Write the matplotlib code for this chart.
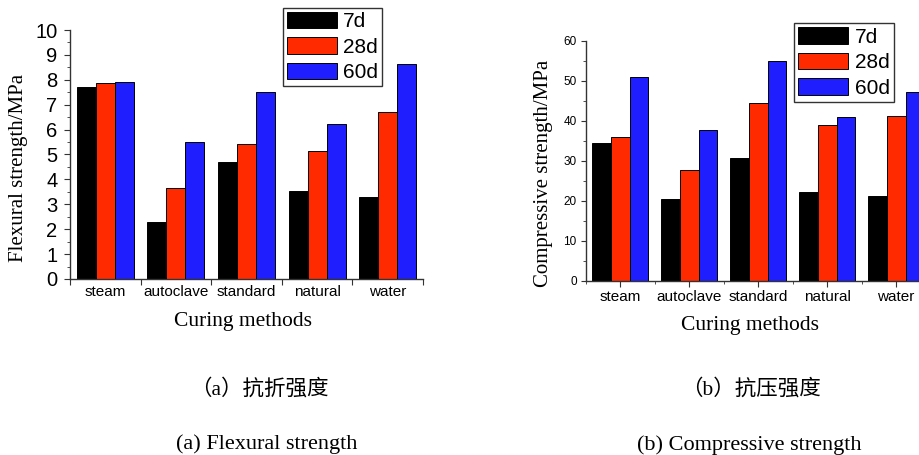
import numpy as np
import matplotlib
matplotlib.use("Agg")
import matplotlib.pyplot as plt

# curing methods and strength values (MPa)
methods = ["steam", "autoclave", "standard", "natural", "water"]
ages = ["7d", "28d", "60d"]
flex_7d = [7.70, 2.30, 4.70, 3.52, 3.28]
flex_28d = [7.87, 3.67, 5.42, 5.15, 6.72]
flex_60d = [7.92, 5.51, 7.52, 6.21, 8.63]
comp_7d = [34.5, 20.5, 30.6, 22.2, 21.1]
comp_28d = [35.9, 27.7, 44.4, 38.9, 41.3]
comp_60d = [50.9, 37.7, 55.0, 40.9, 47.1]

colors = ["#000000", "#FF2A00", "#1E1EFF"]
W, H = 920, 455
serif = "Liberation Serif"
sans = "Liberation Sans"


def px_axes(fig, x0, y0, x1, y1):
    # pixel box (top-left origin) -> figure axes
    return fig.add_axes([x0 / W, 1 - y1 / H, (x1 - x0) / W, (y1 - y0) / H])


def draw_bars(ax, series):
    x = np.arange(len(methods))
    bw = 0.27
    for i, (vals, c) in enumerate(zip(series, colors)):
        ax.bar(x + (i - 1) * bw, vals, bw, color=c, edgecolor="black",
               linewidth=0.7, label=ages[i], zorder=2)
    ax.set_xlim(-0.5, len(methods) - 0.5)
    for s in ["top", "right"]:
        ax.spines[s].set_visible(False)
    for s in ["left", "bottom"]:
        ax.spines[s].set_linewidth(1.0)
        ax.spines[s].set_color("#333333")


def add_legend(ax, fig, x, y):
    ax.legend(loc="upper left", bbox_to_anchor=(x / W, 1 - y / H),
              bbox_transform=fig.transFigure, prop={"family": sans, "size": 15},
              fancybox=False, edgecolor="#333333", framealpha=1, borderaxespad=0,
              handlelength=2.4, handleheight=0.85, labelspacing=0.28,
              handletextpad=0.3, borderpad=0.2)


fig = plt.figure(figsize=(W / 100, H / 100), dpi=100)

# ---- (a) flexural
ax1 = px_axes(fig, 70, 30, 423, 279)
draw_bars(ax1, [flex_7d, flex_28d, flex_60d])
ax1.set_ylim(0, 10)
ax1.set_yticks(np.arange(0, 11, 1))
ax1.set_yticks(np.arange(0, 10.01, 0.5), minor=True)
ax1.set_xticks(np.arange(-0.5, 5, 1))
ax1.set_xticklabels([])
ax1.set_xticks(np.arange(5), methods, minor=True)
ax1.tick_params(axis="y", which="major", labelsize=14.5, length=4, pad=5, color="#333333")
ax1.tick_params(axis="y", which="minor", length=2.5, color="#333333")
ax1.tick_params(axis="x", which="major", length=4, color="#333333")
ax1.tick_params(axis="x", which="minor", length=2.5, direction="in", pad=4, labelsize=11, color="#333333")
for t in ax1.get_yticklabels() + ax1.get_xticklabels(minor=True):
    t.set_family(sans)
ax1.set_ylabel("Flexural strength/MPa", family=serif, fontsize=15)
ax1.yaxis.set_label_coords(-0.119, 0.448)
add_legend(ax1, fig, 282.7, 7.7)

# ---- (b) compressive
ax2 = px_axes(fig, 585.7, 40.7, 930.7, 280.7)
draw_bars(ax2, [comp_7d, comp_28d, comp_60d])
ax2.set_ylim(0, 60)
ax2.set_yticks(np.arange(0, 61, 10))
ax2.set_yticks(np.arange(0, 61, 5), minor=True)
ax2.set_xticks(np.arange(5), methods)
ax2.set_xticks(np.arange(-0.5, 5, 1), minor=True)
ax2.tick_params(axis="y", which="major", labelsize=8.5, length=3.5, pad=3, color="#333333")
ax2.tick_params(axis="y", which="minor", length=2, color="#333333")
ax2.tick_params(axis="x", which="major", length=4, pad=3, labelsize=11, color="#333333")
ax2.tick_params(axis="x", which="minor", length=2.5, color="#333333")
for t in ax2.get_yticklabels() + ax2.get_xticklabels():
    t.set_family(sans)
ax2.set_ylabel("Compressive strength/MPa", family=serif, fontsize=15)
ax2.yaxis.set_label_coords(-0.095, 0.447)
add_legend(ax2, fig, 794.3, 23.3)

# ---- axis titles and captions
cjk = [serif, "Noto Sans CJK SC"]
fig.text(243 / W, 1 - 326 / H, "Curing methods", family=serif, fontsize=15.5,
         ha="center", va="baseline")
fig.text(750 / W, 1 - 330 / H, "Curing methods", family=serif, fontsize=15.5,
         ha="center", va="baseline")
fig.text(259 / W, 1 - 389 / H, "（a）抗折强度", family=cjk, fontsize=15.5,
         ha="center", va="center")
fig.text(751 / W, 1 - 389 / H, "（b）抗压强度", family=cjk, fontsize=15.5,
         ha="center", va="center")
fig.text(267 / W, 1 - 449 / H, "(a) Flexural strength", family=serif, fontsize=16,
         ha="center", va="baseline")
fig.text(749 / W, 1 - 450 / H, "(b) Compressive strength", family=serif, fontsize=16,
         ha="center", va="baseline")

fig.savefig("out.png", dpi=100)
plt.close(fig)
